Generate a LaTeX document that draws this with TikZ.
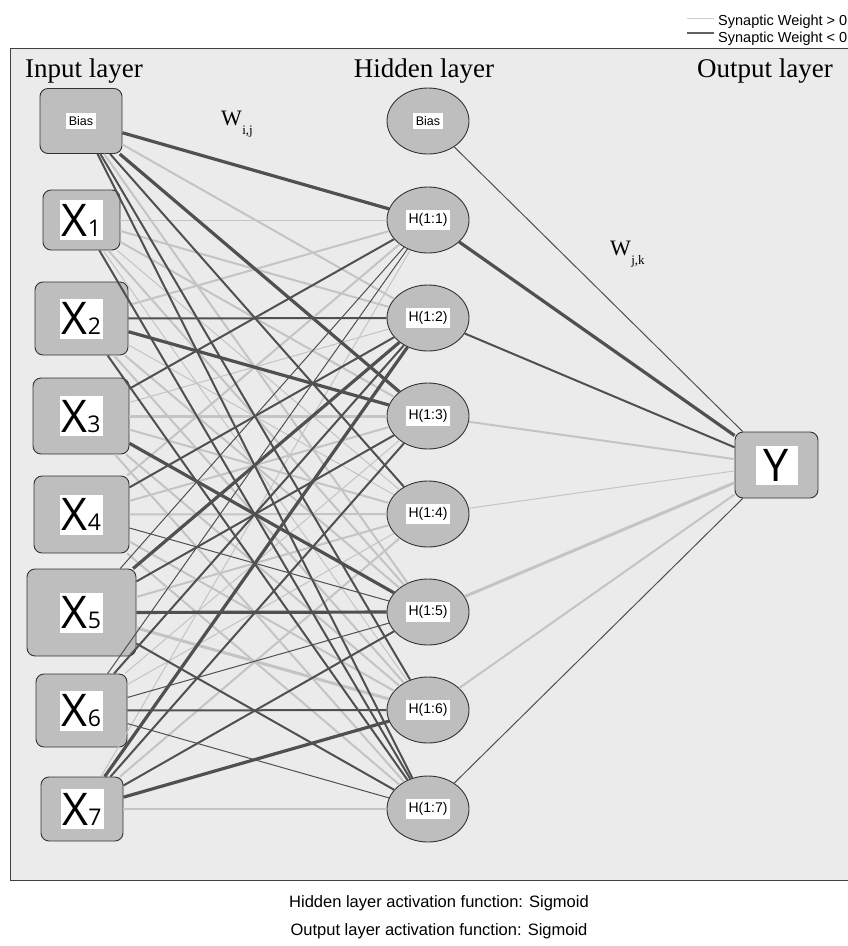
\documentclass[tikz,border=0pt]{standalone}
\usepackage{fontspec}
\setmainfont{Liberation Sans}
\newfontfamily\serifF{Liberation Serif}
\newfontfamily\xF{Open Sans}
\usetikzlibrary{shapes.geometric}
\definecolor{panel}{HTML}{EBEBEB}
\definecolor{nodefill}{HTML}{BEBEBE}
\definecolor{lgray}{HTML}{C4C4C4}
\definecolor{dgray}{HTML}{505050}
\newcommand{\fsz}[1]{\fontsize{#1}{#1}\selectfont}
\newcommand{\xsub}[2]{#1{\fontsize{23}{23}\selectfont #2}}
\begin{document}
\begin{tikzpicture}[x=1pt,y=-1pt,
  inbox/.style={draw=black!80, fill=nodefill, rounded corners=8pt, line width=0.9pt, inner sep=0pt},
  hid/.style={ellipse, draw=black!80, fill=nodefill, line width=0.9pt, minimum width=82pt, minimum height=66pt, inner sep=0pt},
  wlab/.style={fill=white, inner sep=0pt, minimum width=43pt, minimum height=40pt, font=\xF\fsz{45}, text height=32pt, text depth=0pt},
  smlab/.style={fill=white, inner xsep=2.5pt, inner ysep=3pt, font=\fsz{12.5}},
  hlab/.style={fill=white, inner xsep=3pt, inner ysep=3.5pt, font=\fsz{14}},
  title/.style={font=\serifF\fsz{27}, inner sep=0pt},
  lt1/.style={draw=lgray, line width=1.0pt},
  lt2/.style={draw=lgray, line width=2.0pt},
  lt3/.style={draw=lgray, line width=3.0pt},
  dk1/.style={draw=dgray, line width=1.0pt},
  dk2/.style={draw=dgray, line width=2.0pt},
  dk3/.style={draw=dgray, line width=3.2pt},
  txt/.style={inner sep=0pt}
]
\useasboundingbox (0,0) rectangle (847,946);
\fill[white] (0,0) rectangle (847,946);
\draw[fill=panel, draw=black!75, line width=1pt] (10,48) rectangle (850,880);

% legend
\coordinate (la1) at (687,18); \coordinate (lb1) at (714,18);
\coordinate (la2) at (687,33); \coordinate (lb2) at (714,33);
\draw[draw=lgray!80, line width=0.8pt] (la1) -- (lb1);
\draw[draw=dgray!90, line width=1.6pt] (la2) -- (lb2);
\node[txt, anchor=base west, font=\fsz{14.5}] (leg1) at (718,25) {Synaptic Weight > 0};
\node[txt, anchor=base west, font=\fsz{14.5}] (leg2) at (718,42) {Synaptic Weight < 0};

% titles
\node[title, anchor=base west] (tin) at (25,77) {Input layer};
\node[title, anchor=base] (thid) at (424,77) {Hidden layer};
\node[title, anchor=base west] (tout) at (697,77) {Output layer};
\node[txt, anchor=base west, font=\serifF\fsz{22}] (wij) at (221,125) {W};
\node[txt, anchor=base west, font=\serifF\fsz{13}] (wijs) at (wij.base east) [yshift=-9pt] {i,j};
\node[txt, anchor=base west, font=\serifF\fsz{22}] (wjk) at (610,255) {W};
\node[txt, anchor=base west, font=\serifF\fsz{13}] (wjks) at (wjk.base east) [yshift=-9pt] {j,k};

% input nodes
\node[inbox, minimum width=82pt, minimum height=65pt] (bi) at (81,121) {};
\node[inbox, minimum width=77pt, minimum height=60pt] (x1) at (81.5,220) {};
\node[inbox, minimum width=93pt, minimum height=73pt] (x2) at (81.5,318.5) {};
\node[inbox, minimum width=96pt, minimum height=76pt] (x3) at (81,416) {};
\node[inbox, minimum width=95pt, minimum height=77pt] (x4) at (81.5,514.5) {};
\node[inbox, minimum width=109pt, minimum height=87pt] (x5) at (81.5,612.5) {};
\node[inbox, minimum width=91pt, minimum height=73pt] (x6) at (81.5,710.5) {};
\node[inbox, minimum width=82pt, minimum height=64pt] (x7) at (82,809) {};
\node[smlab] (bit) at (bi) {Bias};
\node[wlab] (x1t) at (x1) {\xsub{X}{1}};
\node[wlab] (x2t) at (x2) {\xsub{X}{2}};
\node[wlab] (x3t) at (x3) {\xsub{X}{3}};
\node[wlab] (x4t) at (x4) {\xsub{X}{4}};
\node[wlab] (x5t) at (x5) {\xsub{X}{5}};
\node[wlab] (x6t) at (x6) {\xsub{X}{6}};
\node[wlab] (x7t) at (x7) {\xsub{X}{7}};

% hidden nodes
\node[hid] (hb) at (428,121) {};
\node[hid] (h1) at (428,220) {};
\node[hid] (h2) at (428,318) {};
\node[hid] (h3) at (428,416) {};
\node[hid] (h4) at (428,514) {};
\node[hid] (h5) at (428,612) {};
\node[hid] (h6) at (428,710) {};
\node[hid] (h7) at (428,809) {};
\node[smlab] (hbt) at (hb) {Bias};
\foreach \i in {1,...,7} { \node[hlab] (h\i t) at (h\i) {H(1:\i)}; }

% output node
\node[inbox, minimum width=83pt, minimum height=66pt] (y) at (776.5,465) {};
\node[wlab, minimum width=42pt, minimum height=39pt] (yt) at (y) {Y};

% input -> hidden, light first
\foreach \s/\t/\st in {
 bi/h2/lt2, bi/h5/lt2,
 x1/h1/lt1, x1/h2/lt2, x1/h3/lt2, x1/h4/lt1, x1/h5/lt2, x1/h6/lt1,
 x2/h1/lt2, x2/h4/lt1, x2/h5/lt2, x2/h6/lt2,
 x3/h2/lt1, x3/h3/lt3, x3/h4/lt2, x3/h6/lt2, x3/h7/lt2,
 x4/h1/lt2, x4/h3/lt2, x4/h4/lt2, x4/h6/lt2, x4/h7/lt2,
 x5/h4/lt2, x5/h6/lt3,
 x6/h3/lt1, x6/h4/lt1,
 x7/h1/lt1, x7/h4/lt2, x7/h7/lt2}
 { \draw[\st] (\s) -- (\t); }
\foreach \s/\t/\st in {
 bi/h1/dk3, bi/h3/dk3, bi/h4/dk2, bi/h6/dk2, bi/h7/dk2,
 x1/h7/dk2,
 x2/h2/dk2, x2/h3/dk3, x2/h7/dk2,
 x3/h1/dk2, x3/h5/dk3,
 x4/h2/dk2, x4/h5/dk1,
 x5/h1/dk1, x5/h2/dk3, x5/h3/dk2, x5/h5/dk3, x5/h7/dk2,
 x6/h1/dk1, x6/h2/dk2, x6/h5/dk1, x6/h6/dk2, x6/h7/dk1,
 x7/h2/dk3, x7/h3/dk2, x7/h5/dk2, x7/h6/dk3}
 { \draw[\st] (\s) -- (\t); }

% hidden -> output
\foreach \s/\st in {hb/dk1, h1/dk3, h2/dk2, h3/lt2, h4/lt1, h5/lt3, h6/lt2, h7/dk1}
 { \draw[\st] (\s) -- (y); }

% footer
\node[txt, anchor=base, font=\fsz{16.5}] (f1) at (439,907) {Hidden layer activation function: Sigmoid};
\node[txt, anchor=base, font=\fsz{16.5}] (f2) at (439,935) {Output layer activation function: Sigmoid};
\end{tikzpicture}
\end{document}
